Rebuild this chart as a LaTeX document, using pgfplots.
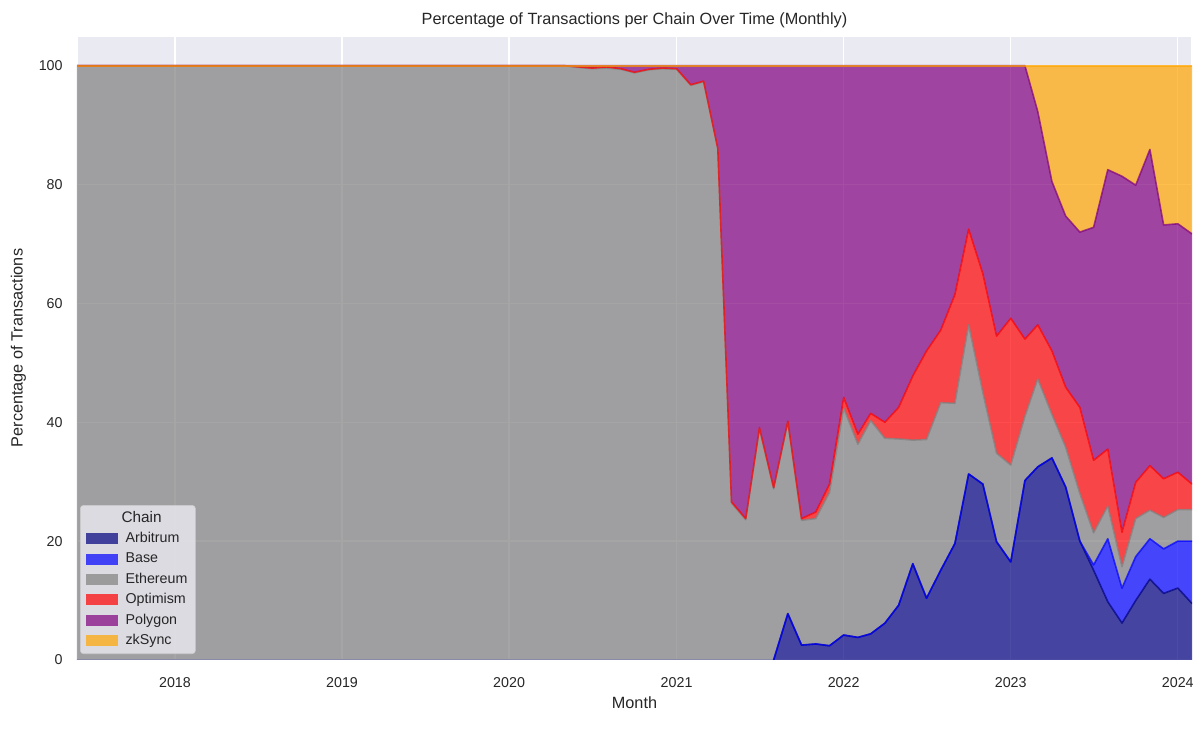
\documentclass[border=0pt]{standalone}
\usepackage{pgfplots}
\pgfplotsset{compat=1.18}
\usepackage{pgfplotstable}
\usepgfplotslibrary{dateplot}
\usepackage{fontspec}
\setmainfont{Liberation Sans}
\definecolor{bg}{HTML}{EAEAF2}
\definecolor{txt}{HTML}{262626}
\definecolor{mnavy}{HTML}{000080}
\definecolor{mblue}{HTML}{0000FF}
\definecolor{mgray}{HTML}{808080}
\definecolor{mred}{HTML}{FF0000}
\definecolor{mpurple}{HTML}{800080}
\definecolor{morange}{HTML}{FFA500}

\pgfplotstableread{
date arb base eth opt poly zk
2017-06-01 0 0 100 0 0 0
2017-07-01 0 0 100 0 0 0
2017-08-01 0 0 100 0 0 0
2017-09-01 0 0 100 0 0 0
2017-10-01 0 0 100 0 0 0
2017-11-01 0 0 100 0 0 0
2017-12-01 0 0 100 0 0 0
2018-01-01 0 0 100 0 0 0
2018-02-01 0 0 100 0 0 0
2018-03-01 0 0 100 0 0 0
2018-04-01 0 0 100 0 0 0
2018-05-01 0 0 100 0 0 0
2018-06-01 0 0 100 0 0 0
2018-07-01 0 0 100 0 0 0
2018-08-01 0 0 100 0 0 0
2018-09-01 0 0 100 0 0 0
2018-10-01 0 0 100 0 0 0
2018-11-01 0 0 100 0 0 0
2018-12-01 0 0 100 0 0 0
2019-01-01 0 0 100 0 0 0
2019-02-01 0 0 100 0 0 0
2019-03-01 0 0 100 0 0 0
2019-04-01 0 0 100 0 0 0
2019-05-01 0 0 100 0 0 0
2019-06-01 0 0 100 0 0 0
2019-07-01 0 0 100 0 0 0
2019-08-01 0 0 100 0 0 0
2019-09-01 0 0 100 0 0 0
2019-10-01 0 0 100 0 0 0
2019-11-01 0 0 100 0 0 0
2019-12-01 0 0 100 0 0 0
2020-01-01 0 0 100 0 0 0
2020-02-01 0 0 100 0 0 0
2020-03-01 0 0 100 0 0 0
2020-04-01 0 0 100 0 0 0
2020-05-01 0 0 100 0 0 0
2020-06-01 0 0 99.7 0.1 0.2 0
2020-07-01 0 0 99.5 0.1 0.4 0
2020-08-01 0 0 99.6 0.2 0.2 0
2020-09-01 0 0 99.4 0.1 0.5 0
2020-10-01 0 0 98.8 0.1 1.1 0
2020-11-01 0 0 99.3 0.1 0.6 0
2020-12-01 0 0 99.5 0.1 0.4 0
2021-01-01 0 0 99.4 0.1 0.5 0
2021-02-01 0 0 96.7 0.1 3.2 0
2021-03-01 0 0 97.3 0.1 2.6 0
2021-04-01 0 0 86.0 0.1 13.9 0
2021-05-01 0 0 26.4 0.2 73.4 0
2021-06-01 0 0 23.6 0.2 76.2 0
2021-07-01 0 0 38.9 0.2 60.9 0
2021-08-01 0 0 28.8 0.2 71.0 0
2021-09-01 7.8 0 32.2 0.2 59.8 0
2021-10-01 2.5 0 21.0 0.3 76.2 0
2021-11-01 2.7 0 21.1 1.1 75.1 0
2021-12-01 2.4 0 25.8 1.4 70.4 0
2022-01-01 4.2 0 38.2 1.8 55.8 0
2022-02-01 3.8 0 32.5 1.7 62.0 0
2022-03-01 4.4 0 35.9 1.2 58.5 0
2022-04-01 6.2 0 31.1 2.7 60.0 0
2022-05-01 9.2 0 28.0 5.3 57.5 0
2022-06-01 16.2 0 20.8 10.8 52.2 0
2022-07-01 10.4 0 26.7 14.9 48.0 0
2022-08-01 15.1 0 28.2 12.2 44.5 0
2022-09-01 19.6 0 23.6 18.3 38.5 0
2022-10-01 31.3 0 25.1 16.1 27.5 0
2022-11-01 29.6 0 15.4 20.0 35.0 0
2022-12-01 19.9 0 14.9 19.7 45.5 0
2023-01-01 16.5 0 16.3 24.7 42.5 0
2023-02-01 30.2 0 10.8 13.0 46.0 0
2023-03-01 32.5 0 14.8 9.1 35.9 7.7
2023-04-01 34.0 0 7.3 10.7 28.5 19.5
2023-05-01 29.1 0 6.7 10.1 28.8 25.3
2023-06-01 20.0 0 8.0 14.5 29.5 28.0
2023-07-01 15.1 0.9 5.4 12.2 39.2 27.2
2023-08-01 9.8 10.6 5.5 9.6 47.0 17.5
2023-09-01 6.2 5.9 3.6 5.8 59.9 18.6
2023-10-01 10.0 7.4 6.4 6.1 50.0 20.1
2023-11-01 13.6 6.8 4.8 7.5 53.2 14.1
2023-12-01 11.2 7.5 5.3 6.5 42.7 26.8
2024-01-01 12.1 7.9 5.3 6.3 41.8 26.6
2024-02-01 9.5 10.5 5.3 4.3 42.1 28.3
}\data

\pgfplotsset{common/.style={
  scale only axis, width=836.25pt, height=468pt,
  at={(57.75pt,55.5pt)}, anchor=south west,
  date coordinates in=x,
  xmin=2017-06-01, xmax=2024-02-01,
  ymin=0, ymax=105,
}}
\tikzset{sline/.style={draw opacity=0.7, line width=1.2pt, line join=round, no marks}}

\begin{document}
\begin{tikzpicture}
\path[use as bounding box] (0,0) rectangle (900pt,550.5pt);
\begin{axis}[common,
  stack plots=y,
  axis background/.style={fill=bg},
  axis line style={draw=white, line width=1pt},
  xtick={2018-01-01,2019-01-01,2020-01-01,2021-01-01,2022-01-01,2023-01-01,2024-01-01},
  xticklabel=\year,
  ytick={0,20,40,60,80,100},
  grid=major, major grid style={white, line width=1pt},
  tick style={draw=none}, major tick length=0pt,
  ticklabel style={font=\fontsize{10.7}{12}\selectfont, text=txt},
  /pgf/number format/assume math mode=true,
  xticklabel style={yshift=-9.5pt},
  yticklabel style={xshift=-7.3pt},
  title={Percentage of Transactions per Chain Over Time (Monthly)},
  title style={at={(axis description cs:0.5,1.0288)}, anchor=center, yshift=-7.5pt, font=\fontsize{12.2}{14}\selectfont, text=txt},
  xlabel={Month},
  xlabel style={at={(axis description cs:0.5,-0.0689)}, anchor=center, font=\fontsize{12.2}{14}\selectfont, text=txt},
  ylabel={Percentage of Transactions},
  ylabel style={at={(axis description cs:-0.0525,0.5)}, anchor=center, font=\fontsize{12.2}{14}\selectfont, text=txt},
  legend style={at={(axis description cs:0.0027,0.0096)}, anchor=south west,
    fill=bg, fill opacity=0.8, text opacity=1, draw=white!80!black, rounded corners=2.5pt,
    font=\fontsize{10.7}{12}\selectfont, text=txt, inner xsep=4pt, inner ysep=3pt, row sep=1.8pt,
    nodes={inner sep=2pt, text height=0.75em, text depth=0.2em},
    /tikz/every odd column/.style={column sep=4pt}},
  legend cell align=left,
  legend image code/.code={\fill[#1, sharp corners] (0pt,-4.1pt) rectangle (24pt,4.1pt);},
]
\addlegendimage{empty legend}
\addlegendentry{\hspace{-3pt}\fontsize{11.5}{13}\selectfont Chain}
\addplot[draw=none, fill=mnavy, fill opacity=0.7] table[x=date,y=arb]{\data} \closedcycle;
\addlegendentry{Arbitrum}
\addplot[draw=none, fill=mblue, fill opacity=0.7] table[x=date,y=base]{\data} \closedcycle;
\addlegendentry{Base}
\addplot[draw=none, fill=mgray, fill opacity=0.7] table[x=date,y=eth]{\data} \closedcycle;
\addlegendentry{Ethereum}
\addplot[draw=none, fill=mred, fill opacity=0.7] table[x=date,y=opt]{\data} \closedcycle;
\addlegendentry{Optimism}
\addplot[draw=none, fill=mpurple, fill opacity=0.7] table[x=date,y=poly]{\data} \closedcycle;
\addlegendentry{Polygon}
\addplot[draw=none, fill=morange, fill opacity=0.7] table[x=date,y=zk]{\data} \closedcycle;
\addlegendentry{zkSync}
\end{axis}
\begin{axis}[common, hide axis]
\addplot[mnavy, sline, skip coords between index={0}{50}] table[x=date, y=arb]{\data};
\addplot[mblue, sline, skip coords between index={0}{50}] table[x=date, y expr=\thisrow{arb}+\thisrow{base}]{\data};
\addplot[mgray, sline] table[x=date, y expr=\thisrow{arb}+\thisrow{base}+\thisrow{eth}]{\data};
\addplot[mred, sline] table[x=date, y expr=\thisrow{arb}+\thisrow{base}+\thisrow{eth}+\thisrow{opt}]{\data};
\addplot[mpurple, sline] table[x=date, y expr=\thisrow{arb}+\thisrow{base}+\thisrow{eth}+\thisrow{opt}+\thisrow{poly}]{\data};
\addplot[morange, sline] table[x=date, y expr=\thisrow{arb}+\thisrow{base}+\thisrow{eth}+\thisrow{opt}+\thisrow{poly}+\thisrow{zk}]{\data};
\end{axis}
\end{tikzpicture}
\end{document}
